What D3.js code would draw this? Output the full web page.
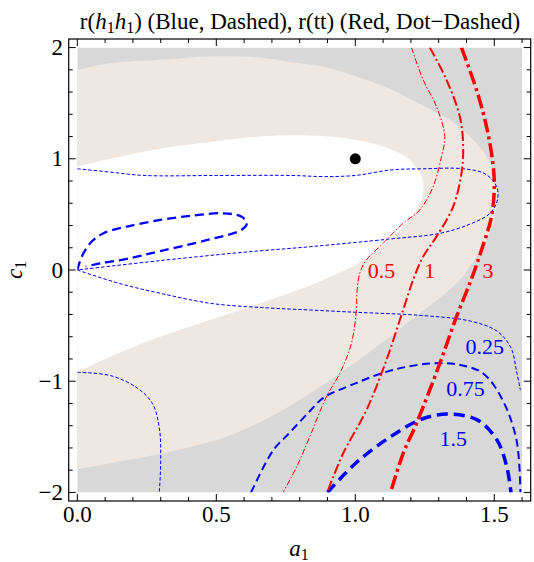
<!DOCTYPE html>
<html><head><meta charset="utf-8">
<script src="https://cdn.jsdelivr.net/npm/d3@7/dist/d3.min.js"></script>
<style>body{margin:0;background:#fff}svg{display:block}text{font-family:"Liberation Serif","Times New Roman",serif}</style>
</head><body><svg id="c" width="534" height="562"></svg>
<script>
// ---- tick data ----
const xMajor = [0, 0.5, 1.0, 1.5];
const xMajorLabels = ["0.0", "0.5", "1.0", "1.5"];
const yMajor = [-2, -1, 0, 1, 2];
const yMajorLabels = ["\u22122", "\u22121", "0", "1", "2"];
const xMinor = [0.1,0.2,0.3,0.4,0.6,0.7,0.8,0.9,1.1,1.2,1.3,1.4,1.6];
const yMinor = [-1.8,-1.6,-1.4,-1.2,-0.8,-0.6,-0.4,-0.2,0.2,0.4,0.6,0.8,1.2,1.4,1.6,1.8];

// ---- shaded regions (a1, c1) ----
const beigeRegion = [[0,1.80],[0.118,1.86],[0.298,1.89],[0.477,1.92],[0.657,1.91],[0.765,1.87],[0.883,1.83],[1.005,1.74],[1.124,1.63],[1.243,1.48],[1.34,1.35],[1.412,1.20],[1.473,1.02],[1.502,0.84],[1.51,0.69],[1.502,0.48],[1.473,0.27],[1.42,0.06],[1.376,-0.09],[1.124,-0.60],[0.944,-0.93],[0.837,-1.11],[0.717,-1.29],[0.537,-1.50],[0.358,-1.62],[0.178,-1.71],[0,-1.79]];
const whiteRegion = [[0,0.93],[0.118,1.00],[0.298,1.09],[0.477,1.15],[0.657,1.20],[0.837,1.21],[1.005,1.17],[1.124,1.09],[1.196,0.99],[1.239,0.84],[1.245,0.75],[1.234,0.60],[1.184,0.42],[1.124,0.27],[1.064,0.15],[1.004,0.05],[0.92,-0.05],[0.837,-0.14],[0.657,-0.30],[0.477,-0.45],[0.298,-0.60],[0.118,-0.78],[0,-0.92]];

// ---- r(h1h1) contours (blue, dashed) ----
const hhLevels = ["0.25", "0.75", "1.5"];
const hh025a = [[0,0.91],[0.12,0.88],[0.24,0.85],[0.5,0.85],[0.77,0.85],[0.885,0.84],[1.0,0.85],[1.13,0.90],[1.245,0.91],[1.39,0.91],[1.47,0.86],[1.51,0.74],[1.51,0.62],[1.485,0.51],[1.41,0.41],[1.305,0.33],[1.13,0.28],[0.84,0.21],[0.6,0.16],[0.3,0.085],[0,0]];
const hh025b = [[0,0],[0.15,-0.12],[0.3,-0.21],[0.48,-0.30],[0.68,-0.34],[0.84,-0.36],[1.0,-0.38],[1.245,-0.41],[1.415,-0.46],[1.51,-0.55],[1.56,-0.70],[1.58,-0.91],[1.594,-1.08]];
const hh025c = [[0,-0.92],[0.12,-0.95],[0.215,-1.06],[0.27,-1.20],[0.295,-1.42],[0.3,-1.71],[0.295,-2.0]];
const hh075a = [[0.625,-2],[0.705,-1.62],[0.765,-1.46],[0.836,-1.27],[0.885,-1.15],[1.0,-1.02],[1.126,-0.905],[1.27,-0.84],[1.37,-0.85],[1.46,-0.93],[1.53,-1.17],[1.58,-1.53],[1.594,-2]];
const hh075b = [[0.0,0.0],[0.016,0.12],[0.046,0.24],[0.094,0.33],[0.178,0.39],[0.298,0.45],[0.418,0.49],[0.525,0.51],[0.59,0.48],[0.61,0.42],[0.59,0.36],[0.477,0.275],[0.298,0.17],[0.178,0.10],[0.082,0.06],[0.03,0.03]];
const hh15 = [[0.9,-2],[1.0,-1.74],[1.126,-1.50],[1.245,-1.335],[1.34,-1.296],[1.44,-1.35],[1.51,-1.53],[1.545,-1.77],[1.56,-2]];
const hhLabelPos = [[1.466,-0.69],[1.396,-1.065],[1.352,-1.515]];

// ---- r(tt) contours (red, dot-dashed) ----
const ttLevels = ["0.5", "1", "3"];
const tt05 = [[1.202,2.0],[1.244,1.71],[1.292,1.47],[1.322,1.20],[1.31,1.02],[1.28,0.75],[1.232,0.54],[1.172,0.42],[1.10,0.24],[1.04,0.09],[1.016,-0.03],[1.006,-0.2],[1.004,-0.36],[0.986,-0.66],[0.944,-0.93],[0.896,-1.14],[0.836,-1.50],[0.789,-1.77],[0.74,-2]];
const tt1 = [[1.268,2.0],[1.328,1.71],[1.376,1.38],[1.388,1.11],[1.382,0.87],[1.352,0.57],[1.292,0.30],[1.244,0.12],[1.208,-0.09],[1.172,-0.36],[1.112,-0.81],[1.04,-1.26],[0.956,-1.65],[0.899,-2]];
const tt3 = [[1.382,2.0],[1.436,1.62],[1.472,1.29],[1.495,0.96],[1.50,0.75],[1.49,0.48],[1.454,0.18],[1.418,-0.08],[1.364,-0.42],[1.304,-0.84],[1.22,-1.38],[1.172,-1.65],[1.127,-2]];
const ttLabelPos = [[1.094,0],[1.268,0],[1.477,0]];

const point = [[1.0, 1.0]];

// ---- drawing ----
const svg = d3.select("#c");
const x = d3.scaleLinear().domain([-0.031, 1.631]).range([68.7, 530.7]);
const y = d3.scaleLinear().domain([-2.077, 2.077]).range([501, 39]);

svg.append("defs").append("clipPath").attr("id","clip").append("rect")
  .attr("x", x(0)).attr("y", y(2)).attr("width", x(1.6)-x(0)).attr("height", y(-2)-y(2));

const g = svg.append("g").attr("clip-path","url(#clip)");
g.append("rect").attr("x", x(0)).attr("y", y(2)).attr("width", x(1.6)-x(0)).attr("height", y(-2)-y(2)).attr("fill","#d8d8d8");

const ln = d3.line().x(d=>x(d[0])).y(d=>y(d[1])).curve(d3.curveCatmullRom.alpha(0.5));
const regionPath = pts => ln(pts) + "L" + x(-0.05) + "," + y(pts[pts.length-1][1]) + "L" + x(-0.05) + "," + y(pts[0][1]) + "Z";

g.append("path").attr("d", regionPath(beigeRegion)).attr("fill","#efe7e1");
g.append("path").attr("d", regionPath(whiteRegion)).attr("fill","#ffffff");

const blue = "#0000ff", red = "#ff0000";
const styles = [
  {data: hh025a, c: blue, w: 1, d: "3.5,2"},
  {data: hh025b, c: blue, w: 1, d: "3.5,2"},
  {data: hh025c, c: blue, w: 1, d: "3.5,2"},
  {data: hh075a, c: blue, w: 2, d: "8,4.5"},
  {data: hh075b, c: blue, w: 2.3, d: "9,5"},
  {data: hh15, c: blue, w: 3.5, d: "11,6"},
  {data: tt05, c: red, w: 1, d: "6,2,1.5,2"},
  {data: tt1, c: red, w: 2, d: "10,3,2,3"},
  {data: tt3, c: red, w: 3.5, d: "14,4,3,4"}
];
styles.forEach(s => {
  g.append("path").attr("d", ln(s.data)).attr("fill","none").attr("stroke", s.c)
   .attr("stroke-width", s.w).attr("stroke-dasharray", s.d);
});

g.selectAll(".hl").data(hhLevels).enter().append("text")
  .attr("x",(d,i)=>x(hhLabelPos[i][0])).attr("y",(d,i)=>y(hhLabelPos[i][1]))
  .attr("text-anchor","middle").attr("dominant-baseline","central")
  .attr("font-size",22).attr("fill",blue).text(d=>d);
g.selectAll(".tl").data(ttLevels).enter().append("text")
  .attr("x",(d,i)=>x(ttLabelPos[i][0])).attr("y",(d,i)=>y(ttLabelPos[i][1]))
  .attr("text-anchor","middle").attr("dominant-baseline","central")
  .attr("font-size",22).attr("fill",red).text(d=>d);

g.selectAll(".pt").data(point).enter().append("circle")
  .attr("cx", d=>x(d[0])).attr("cy", d=>y(d[1])).attr("r", 5.5).attr("fill","#000");

// frame
const fx0 = 68.7, fx1 = 530.7, fy0 = 39, fy1 = 501;
svg.append("rect").attr("x",fx0).attr("y",fy0).attr("width",fx1-fx0).attr("height",fy1-fy0)
  .attr("fill","none").attr("stroke","#000").attr("stroke-width",1.2);

const tk = svg.append("g").attr("stroke","#000").attr("stroke-width",1);
const majL = 7, minL = 4;
xMajor.forEach(v=>{ tk.append("line").attr("x1",x(v)).attr("x2",x(v)).attr("y1",fy1).attr("y2",fy1-majL);
  tk.append("line").attr("x1",x(v)).attr("x2",x(v)).attr("y1",fy0).attr("y2",fy0+majL); });
xMinor.forEach(v=>{ tk.append("line").attr("x1",x(v)).attr("x2",x(v)).attr("y1",fy1).attr("y2",fy1-minL);
  tk.append("line").attr("x1",x(v)).attr("x2",x(v)).attr("y1",fy0).attr("y2",fy0+minL); });
yMajor.forEach(v=>{ tk.append("line").attr("y1",y(v)).attr("y2",y(v)).attr("x1",fx0).attr("x2",fx0+majL);
  tk.append("line").attr("y1",y(v)).attr("y2",y(v)).attr("x1",fx1).attr("x2",fx1-majL); });
yMinor.forEach(v=>{ tk.append("line").attr("y1",y(v)).attr("y2",y(v)).attr("x1",fx0).attr("x2",fx0+minL);
  tk.append("line").attr("y1",y(v)).attr("y2",y(v)).attr("x1",fx1).attr("x2",fx1-minL); });

svg.selectAll(".xl").data(xMajor).enter().append("text")
  .attr("x",d=>x(d)).attr("y",522).attr("text-anchor","middle").attr("font-size",23).text((d,i)=>xMajorLabels[i]);
svg.selectAll(".yl").data(yMajor).enter().append("text")
  .attr("x",63).attr("y",d=>y(d)).attr("dominant-baseline","central").attr("text-anchor","end").attr("font-size",23).text((d,i)=>yMajorLabels[i]);

// axis labels
const xl = svg.append("text").attr("x",299).attr("y",556).attr("text-anchor","middle").attr("font-size",23);
xl.append("tspan").attr("font-style","italic").text("a");
xl.append("tspan").attr("font-size",16).attr("dy",4).text("1");
const yl = svg.append("text").attr("transform","translate(22,270) rotate(-90)").attr("text-anchor","middle").attr("font-size",23);
yl.append("tspan").attr("font-style","italic").text("c");
yl.append("tspan").attr("font-size",16).attr("dy",4).text("1");

// title
const t = svg.append("text").attr("x",300).attr("y",29).attr("text-anchor","middle").attr("font-size",23);
t.append("tspan").text("r(");
t.append("tspan").attr("font-style","italic").text("h");
t.append("tspan").attr("font-size",16).attr("dy",4).text("1");
t.append("tspan").attr("font-style","italic").attr("dy",-4).text("h");
t.append("tspan").attr("font-size",16).attr("dy",4).text("1");
t.append("tspan").attr("dy",-4).text(") (Blue, Dashed), r(tt) (Red, Dot\u2212Dashed)");
</script></body></html>
